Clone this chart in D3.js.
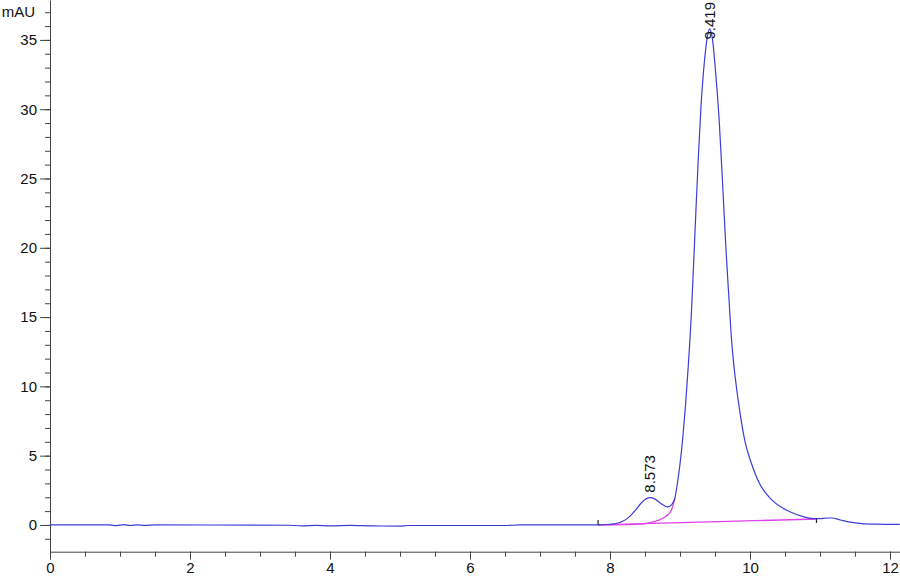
<!DOCTYPE html>
<html>
<head>
<meta charset="utf-8">
<script src="https://cdn.jsdelivr.net/npm/d3@7"></script>
<style>
    body { margin: 0; background: #fff; }
    svg { display: block; font-family: "Liberation Sans", Arial, sans-serif; }
    .axis path, .axis line { stroke: #444; }
    .axis text { font-size: 15px; fill: #111; }
</style>
</head>
<body>
<div id="chart"></div>
<script>
// retention time (min) and detector signal (mAU)
const times = [
    0, 0.85, 0.95, 1.05, 1.15, 1.25, 1.35, 1.5, 3.4, 3.6, 3.8, 4.0, 4.3, 4.6, 5.0, 5.1,
    6.5, 6.7, 7.5, 7.83, 8.0, 8.1, 8.19, 8.28, 8.36, 8.45, 8.52, 8.573, 8.63, 8.7, 8.76,
    8.82, 8.88, 8.93, 8.96, 9.0, 9.04, 9.08, 9.12, 9.16, 9.19, 9.22, 9.26, 9.3, 9.35,
    9.39, 9.42, 9.46, 9.5, 9.56, 9.61, 9.66, 9.7, 9.73, 9.76, 9.79, 9.86, 9.93, 10.02,
    10.14, 10.24, 10.33, 10.45, 10.57, 10.76, 10.9, 11.0, 11.1, 11.17, 11.29, 11.43, 11.6, 11.8, 12.14
];
const signal = [
    0, 0, -0.05, 0.02, -0.04, 0.01, -0.03, 0, -0.02, -0.06, -0.03, -0.06, -0.03, -0.07, -0.08, -0.04,
    -0.04, 0, 0, 0, 0.05, 0.12, 0.28, 0.6, 1.05, 1.6, 1.9, 1.97, 1.9, 1.65, 1.44,
    1.3, 1.45, 2.0, 2.9, 4.4, 6.3, 8.7, 11.6, 15.0, 18.3, 21.8, 26.3, 30.2, 33.5,
    35.2, 35.8, 35.2, 33.2, 29.2, 24.5, 19.6, 16.3, 13.8, 12.0, 10.6, 8.0, 6.0, 4.45,
    2.95, 2.2, 1.72, 1.27, 0.95, 0.6, 0.46, 0.45, 0.5, 0.5, 0.36, 0.2, 0.1, 0.06, 0.04
];

// integration baselines
const baseTimes = [7.83, 10.95];
const baseValues = [0, 0.43];
const skimTimes = [7.83, 8.2, 8.4, 8.52, 8.62, 8.71, 8.78, 8.83, 8.88, 8.93];
const skimValues = [0, 0.02, 0.06, 0.12, 0.22, 0.36, 0.55, 0.75, 1.1, 1.95];

// peak labels
const peakTimes = [8.573, 9.419];
const peakHeights = [1.97, 35.8];

const xMajor = [0, 2, 4, 6, 8, 10, 12];
const xMinor = d3.range(0, 12.01, 0.5);
const yMajor = [0, 5, 10, 15, 20, 25, 30, 35];
const yMinor = d3.range(-1, 37.01, 1);

const width = 900, height = 578;
const margin = { top: 0, right: 0, bottom: 26.3, left: 50 };

const svg = d3.select('#chart')
    .append('svg')
    .attr('width', width)
    .attr('height', height);

const x = d3.scaleLinear()
    .domain([0, 12.143])
    .range([margin.left, width - margin.right]);

const y = d3.scaleLinear()
    .domain([-1.93, 37.88])
    .range([height - margin.bottom, margin.top]);

// axes: minor ticks first, then major with labels
svg.append('g')
    .attr('class', 'axis')
    .attr('transform', `translate(0,${y.range()[0]})`)
    .call(d3.axisBottom(x).tickValues(xMinor).tickSize(5).tickSizeOuter(0).tickFormat(''));

svg.append('g')
    .attr('class', 'axis')
    .attr('transform', `translate(0,${y.range()[0]})`)
    .call(d3.axisBottom(x).tickValues(xMajor).tickSize(8).tickSizeOuter(0).tickPadding(3).tickFormat(d3.format('d')))
    .call(g => g.select('.domain').remove());

svg.append('g')
    .attr('class', 'axis')
    .attr('transform', `translate(${margin.left},0)`)
    .call(d3.axisLeft(y).tickValues(yMinor).tickSize(5).tickSizeOuter(0).tickFormat(''));

svg.append('g')
    .attr('class', 'axis')
    .attr('transform', `translate(${margin.left},0)`)
    .call(d3.axisLeft(y).tickValues(yMajor).tickSize(10).tickSizeOuter(0).tickPadding(3).tickFormat(d3.format('d')))
    .call(g => g.select('.domain').remove());

svg.append('text')
    .attr('x', 35)
    .attr('y', 17)
    .attr('text-anchor', 'end')
    .style('font-size', '15px')
    .style('fill', '#111')
    .text('mAU');

const line = d3.line()
    .x(d => x(d[0]))
    .y(d => y(d[1]))
    .curve(d3.curveMonotoneX);

// baselines under the trace
svg.append('path')
    .datum(d3.zip(baseTimes, baseValues))
    .attr('fill', 'none')
    .attr('stroke', '#e040e8')
    .attr('stroke-width', 1.3)
    .attr('d', line);

svg.append('path')
    .datum(d3.zip(skimTimes, skimValues))
    .attr('fill', 'none')
    .attr('stroke', '#e040e8')
    .attr('stroke-width', 1.3)
    .attr('d', line);

svg.append('path')
    .datum(d3.zip(times, signal))
    .attr('fill', 'none')
    .attr('stroke', '#3c3cd8')
    .attr('stroke-width', 1.2)
    .attr('d', line);

// start / end markers of integration
svg.append('line')
    .attr('x1', x(baseTimes[0])).attr('x2', x(baseTimes[0]))
    .attr('y1', y(baseValues[0])).attr('y2', y(baseValues[0]) - 5)
    .attr('stroke', '#222').attr('stroke-width', 1.2);

svg.append('line')
    .attr('x1', x(baseTimes[1])).attr('x2', x(baseTimes[1]))
    .attr('y1', y(baseValues[1])).attr('y2', y(baseValues[1]) + 4)
    .attr('stroke', '#222').attr('stroke-width', 1.2);

// retention time labels, rotated
peakTimes.forEach((t, i) => {
    const label = svg.append('text')
        .attr('text-anchor', 'start')
        .attr('dy', '0.35em')
        .style('font-size', '15px')
        .style('fill', '#111')
        .text(d3.format('.3f')(t));
    const len = label.node().getComputedTextLength();
    const ly = Math.max(y(peakHeights[i]) - 5, len + 2);
    label.attr('transform', `translate(${x(t)},${ly}) rotate(-90)`);
});
</script>
</body>
</html>
